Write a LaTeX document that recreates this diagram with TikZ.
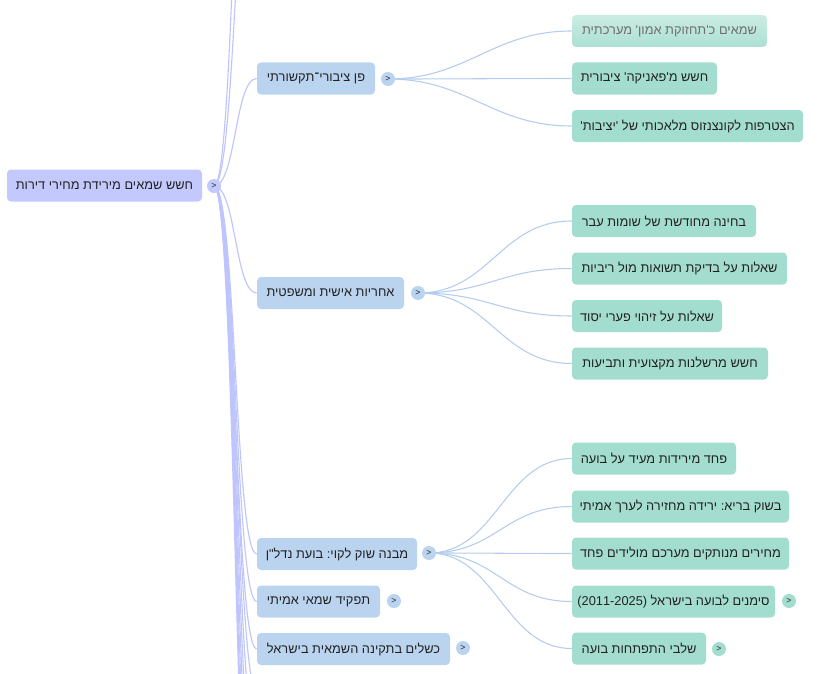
\documentclass[tikz,border=0pt]{standalone}
\usepackage{fontspec}
\setmainfont{Liberation Sans}
\newfontfamily\hebfont[Script=Hebrew,Ligatures=TeXOff]{Liberation Sans}
\TeXXeTstate=1
\frenchspacing
\pgfdeclarelayer{bg}
\pgfsetlayers{bg,main}
\definecolor{rootc}{RGB}{196,201,253}
\definecolor{lonec}{RGB}{186,212,240}
\definecolor{ltwoc}{RGB}{163,221,207}
\definecolor{rootline}{RGB}{190,196,252}
\definecolor{loneline}{RGB}{180,205,238}
\definecolor{textc}{RGB}{34,34,34}
\newcommand{\hebtxt}[1]{\hebfont\frenchspacing\beginR #1\endR}
\begin{document}
\begin{tikzpicture}[x=0.75pt,y=-0.75pt,
  boxnode/.style={rounded corners=3pt, inner sep=0pt, minimum height=24pt, text=textc,
    font=\hebfont\fontsize{9.6}{12}\selectfont},
  rootbox/.style={boxnode, fill=rootc},
  onebox/.style={boxnode, fill=lonec},
  twobox/.style={boxnode, fill=ltwoc},
  wd/.style={minimum width=#1*0.75pt},
  tog/.style={circle, inner sep=0pt, minimum size=10.5pt, text=textc, font=\fontsize{6.5}{6.5}\selectfont},
  rline/.style={draw=rootline, line width=0.85pt},
  oline/.style={draw=loneline, line width=0.8pt},
]
\useasboundingbox (0,0) rectangle (831,674);

% root
\node[rootbox, wd=195] (r) at (104.5,185.5) {\hebtxt{חשש שמאים מירידת מחירי דירות}};
\node[tog, fill=rootc] (rt) at (214,186) {>};

% level 1
\node[onebox, wd=118] (a) at (316,78.5) {\hebtxt{פן ציבורי־תקשורתי}};
\node[tog, fill=lonec] (at) at (388,79) {>};
\node[onebox, wd=147] (b) at (330.5,293) {\hebtxt{אחריות אישית ומשפטית}};
\node[tog, fill=lonec] (bt) at (418,293) {>};
\node[onebox, wd=160] (c) at (337,554) {\hebtxt{מבנה שוק לקוי: בועת נדל"ן}};
\node[tog, fill=lonec] (ct) at (429,553) {>};
\node[onebox, wd=123] (d) at (318.5,601.5) {\hebtxt{תפקיד שמאי אמיתי}};
\node[tog, fill=lonec] (dt) at (394,601) {>};
\node[onebox, wd=193] (e) at (353.5,649) {\hebtxt{כשלים בתקינה השמאית בישראל}};
\node[tog, fill=lonec] (et) at (463,648) {>};

% level 2, group a
\node[boxnode, wd=195, top color={rgb,255:red,204;green,236;blue,226}, bottom color={rgb,255:red,172;green,224;blue,211}, text={rgb,255:red,110;green,110;blue,110}] (a1) at (669.5,31) {\hebtxt{שמאים כ'תחזוקת אמון' מערכתית}};
\node[twobox, wd=145] (a2) at (644.5,78.5) {\hebtxt{חשש מ'פאניקה' ציבורית}};
\node[twobox, wd=231] (a3) at (687.5,126) {\hebtxt{הצטרפות לקונצנזוס מלאכותי של 'יציבות'}};

% group b
\node[twobox, wd=184] (b1) at (664,221) {\hebtxt{בחינה מחודשת של שומות עבר}};
\node[twobox, wd=215] (b2) at (679.5,268.5) {\hebtxt{שאלות על בדיקת תשואות מול ריביות}};
\node[twobox, wd=150] (b3) at (647,316) {\hebtxt{שאלות על זיהוי פערי יסוד}};
\node[twobox, wd=196] (b4) at (670,363.5) {\hebtxt{חשש מרשלנות מקצועית ותביעות}};

% group c
\node[twobox, wd=164] (c1) at (654,458.5) {\hebtxt{פחד מירידות מעיד על בועה}};
\node[twobox, wd=217] (c2) at (680.5,506.5) {\hebtxt{בשוק בריא: ירידה מחזירה לערך אמיתי}};
\node[twobox, wd=217] (c3) at (680.5,553.5) {\hebtxt{מחירים מנותקים מערכם מולידים פחד}};
\node[twobox, wd=203] (c4) at (673.5,601.5) {\hebtxt{סימנים לבועה בישראל \beginL(2011-2025)\endL}};
\node[tog, fill=ltwoc] (c4t) at (789,601) {>};
\node[twobox, wd=134] (c5) at (639,648.5) {\hebtxt{שלבי התפתחות בועה}};
\node[tog, fill=ltwoc] (c5t) at (719,649) {>};

% off-screen siblings of the root's children
\coordinate (u1) at (258,-420);
\coordinate (u2) at (258,-210);
\coordinate (w1) at (258,696);
\coordinate (w2) at (258,744);
\coordinate (w3) at (258,791);
\coordinate (w4) at (258,839);
\coordinate (w5) at (258,886);
\coordinate (w6) at (258,934);
\coordinate (w7) at (258,981);

\begin{pgfonlayer}{bg}
\begin{scope}
\clip (0,0) rectangle (831,674);
\foreach \n in {u1,u2,a,b,c,d,e,w1,w2,w3,w4,w5,w6,w7}{
  \draw[rline] (rt.center) .. controls +(22,0) and +(-22,0) .. (\n.west);
}
\foreach \n in {a1,a2,a3}{
  \draw[oline] (at.center) .. controls +(80,0) and +(-80,0) .. (\n.west);
}
\foreach \n in {b1,b2,b3,b4}{
  \draw[oline] (bt.center) .. controls +(72,0) and +(-72,0) .. (\n.west);
}
\foreach \n in {c1,c2,c3,c4,c5}{
  \draw[oline] (ct.center) .. controls +(68,0) and +(-68,0) .. (\n.west);
}
\end{scope}
\end{pgfonlayer}
\end{tikzpicture}
\end{document}
